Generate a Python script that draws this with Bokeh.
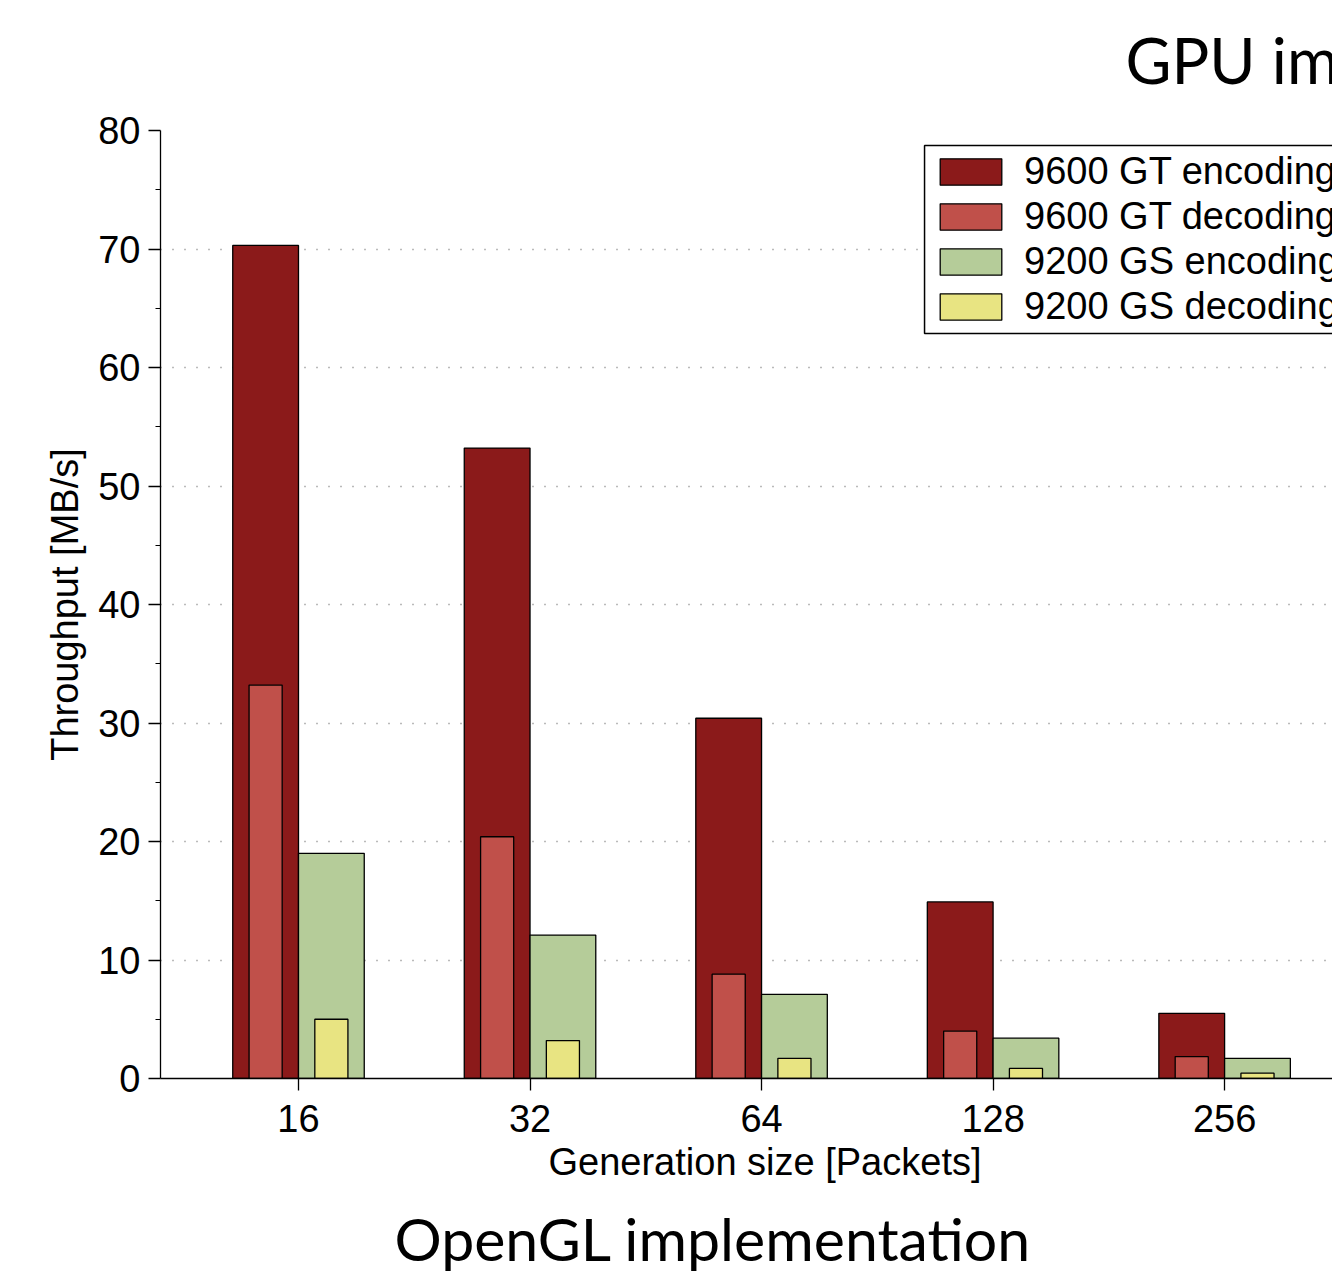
import numpy as np
from bokeh.plotting import figure
from bokeh.models import (Range1d, FixedTicker, Legend, LegendItem, Title,
                          ColumnDataSource, BoxAnnotation)
from bokeh.embed import file_html
from bokeh.resources import INLINE

# ---- data ----
gen_sizes = ["16", "32", "64", "128", "256"]
gt_encoding = [70.3, 53.2, 30.4, 14.9, 5.5]
gt_decoding = [33.2, 20.4, 8.8, 4.0, 1.85]
gs_encoding = [19.0, 12.1, 7.1, 3.4, 1.7]
gs_decoding = [5.0, 3.2, 1.7, 0.85, 0.45]
series_names = ["9600 GT encoding", "9600 GT decoding",
                "9200 GS encoding", "9200 GS decoding"]
y_ticks = [0, 10, 20, 30, 40, 50, 60, 70, 80]
x_title = "Generation size [Packets]"
y_title = "Throughput [MB/s]"
slide_title = "GPU implementation"
slide_caption = "OpenGL implementation"

colors = ["#8B1A1A", "#C0504A", "#B5CC99", "#E8E482"]
TICK_FONT = "Liberation Sans"
TITLE_FONT = "Lato"
FS = "38px"

pos = np.arange(1, len(gen_sizes) + 1)
off = 0.142
w_enc = 0.284
w_dec = 0.143

p = figure(width=1332, height=1274, output_backend="svg", toolbar_location=None,
           x_range=Range1d(0.404, 5.466), y_range=Range1d(0, 80),
           min_border_left=160, min_border_right=0, min_border_top=130,
           min_border_bottom=196, outline_line_color=None,
           background_fill_color="white", border_fill_color="white")

src = ColumnDataSource(dict(x_gt=pos - off, x_gs=pos + off,
                            gt_enc=gt_encoding, gt_dec=gt_decoding,
                            gs_enc=gs_encoding, gs_dec=gs_decoding))

r1 = p.vbar(x="x_gt", top="gt_enc", bottom=0, width=w_enc, source=src,
            fill_color=colors[0], line_color="black", line_width=1.3)
r3 = p.vbar(x="x_gs", top="gs_enc", bottom=0, width=w_enc, source=src,
            fill_color=colors[2], line_color="black", line_width=1.3)
r2 = p.vbar(x="x_gt", top="gt_dec", bottom=0, width=w_dec, source=src,
            fill_color=colors[1], line_color="black", line_width=1.3)
r4 = p.vbar(x="x_gs", top="gs_dec", bottom=0, width=w_dec, source=src,
            fill_color=colors[3], line_color="black", line_width=1.3)

p.xaxis.ticker = FixedTicker(ticks=list(pos))
p.xaxis.major_label_overrides = {int(k): v for k, v in zip(pos, gen_sizes)}
p.xaxis.minor_tick_line_color = None
p.xaxis.major_tick_in = 0
p.xaxis.major_tick_out = 12
p.xaxis.major_label_standoff = 14
p.xaxis.major_label_text_font = TICK_FONT
p.xaxis.major_label_text_font_size = FS
p.xaxis.major_label_text_color = "black"
p.xaxis.axis_line_color = "black"
p.xaxis.axis_line_width = 1.3
p.xaxis.major_tick_line_color = "black"
p.xaxis.major_tick_line_width = 1.3

p.yaxis.ticker = FixedTicker(ticks=y_ticks,
                             minor_ticks=[v + 5 for v in y_ticks[:-1]])
p.yaxis.major_tick_in = 0
p.yaxis.major_tick_out = 12
p.yaxis.minor_tick_in = 0
p.yaxis.minor_tick_out = 5
p.yaxis.major_label_standoff = 8
p.yaxis.major_label_text_font = TICK_FONT
p.yaxis.major_label_text_font_size = FS
p.yaxis.major_label_text_color = "black"
p.yaxis.axis_line_color = "black"
p.yaxis.axis_line_width = 1.3
p.yaxis.major_tick_line_color = "black"
p.yaxis.major_tick_line_width = 1.3
p.yaxis.minor_tick_line_color = "black"
p.yaxis.axis_label = y_title
p.yaxis.axis_label_text_font = TICK_FONT
p.yaxis.axis_label_text_font_size = FS
p.yaxis.axis_label_text_font_style = "normal"
p.yaxis.axis_label_text_color = "black"
p.yaxis.axis_label_standoff = 9

p.xgrid.grid_line_color = None
p.ygrid.ticker = FixedTicker(ticks=y_ticks[1:])
p.ygrid.grid_line_color = "#777777"
p.ygrid.grid_line_dash = "1 11"
p.ygrid.grid_line_width = 1.3


def spacer(size):
    """A blank title that only reserves about `size` pixels in a side panel."""
    return Title(text=" ", standoff=size - 1, text_font_size="1px",
                 text_color="white")


# below: x axis title, gap, slide caption
p.add_layout(Title(text=x_title, align="left", offset=388, standoff=8,
                   text_font=TICK_FONT, text_font_size=FS,
                   text_font_style="normal", text_color="black"), "below")
p.add_layout(spacer(12), "below")
p.add_layout(Title(text=slide_caption, align="left", offset=234, standoff=0,
                   text_font=TITLE_FONT, text_font_size="59px",
                   text_font_style="normal", text_color="black"), "below")

# above: gap, slide title
p.add_layout(spacer(32), "above")
p.add_layout(Title(text=slide_title, align="left", offset=965, standoff=0,
                   text_font=TITLE_FONT, text_font_size="63px",
                   text_font_style="normal", text_color="black"), "above")

# legend frame (white box with black border, extends beyond the crop)
p.add_layout(BoxAnnotation(left=3.704, right=6.0, top=78.73, bottom=62.87,
                           fill_color="white", fill_alpha=1.0,
                           line_color="black", line_alpha=1.0,
                           line_width=1.5))

legend = Legend(items=[LegendItem(label=series_names[0], renderers=[r1]),
                       LegendItem(label=series_names[1], renderers=[r2]),
                       LegendItem(label=series_names[2], renderers=[r3]),
                       LegendItem(label=series_names[3], renderers=[r4])],
                location=(772, 749), glyph_width=77, glyph_height=33,
                label_height=45, label_text_font=TICK_FONT,
                label_text_font_size=FS, label_text_color="black",
                label_standoff=15, spacing=0, padding=0, margin=0,
                border_line_color=None, background_fill_alpha=0.0)
p.add_layout(legend)

open("out.html", "w").write(file_html(p, INLINE))
